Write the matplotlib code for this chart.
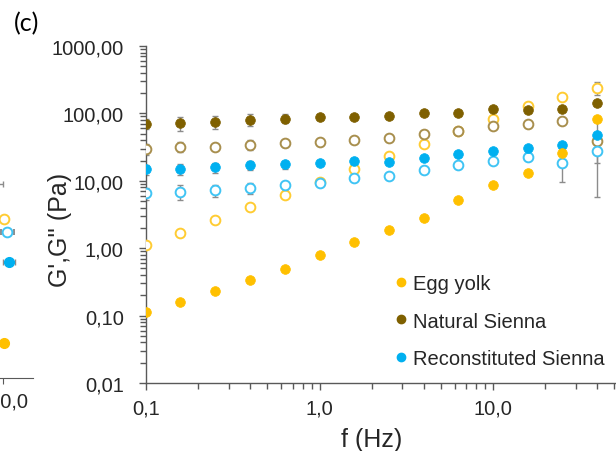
import matplotlib
matplotlib.use('Agg')
import matplotlib.pyplot as plt
from matplotlib.ticker import FuncFormatter, FixedLocator, LogLocator, NullFormatter
from matplotlib.lines import Line2D

plt.rcParams['font.family'] = ['Liberation Sans', 'DejaVu Sans']

# Frecuencias (Hz)
freq = [0.1, 0.158, 0.251, 0.398, 0.631, 1.0, 1.585, 2.512, 3.981, 6.31, 10.0, 15.85, 25.12, 39.81]

# Egg yolk
egg_G1 = [0.115, 0.159, 0.231, 0.341, 0.492, 0.794, 1.25, 1.85, 2.78, 5.2, 8.6, 13.2, 25.6, 82]
egg_G1_err = [0, 0, 0, 0, 0, 0, 0, 0, 0, 0, 0, 0.5, 1.0, 4]
egg_G2 = [1.10, 1.69, 2.58, 4.06, 6.21, 9.5, 14.9, 23.3, 35.5, 54, 84, 129, 178, 239]
egg_G2_err = [0, 0, 0, 0, 0, 0, 0, 0, 0, 0, 3, 5, 8, 53]

# Natural Sienna
nat_G1 = [70.8, 72, 74, 81, 84, 88, 88, 93, 103, 103, 115, 112, 115, 145]
nat_G1_err = [12, 17, 16, 17, 13, 8, 6, 5, 5, 5, 5, 5, 5, 10]
nat_G2 = [30, 31.8, 31.8, 34.4, 36, 38.2, 40, 43.8, 49.5, 54.4, 66, 70.8, 78, 38.5]
nat_G2_err = [5.5, 5.5, 3, 6, 4, 2, 2, 2, 2, 2, 3, 3, 3, 5]

# Reconstituted Sienna
rec_G1 = [14.8, 15.1, 15.8, 16.9, 17.5, 18.4, 19.9, 19.0, 21.5, 25.3, 27.7, 30.3, 33.6, 47.9]
rec_G1_err = [2.5, 2.8, 2.8, 2.6, 2.5, 1.5, 2, 1.5, 1, 1, 1, 1, 1, 29.7]
rec_G2 = [6.56, 6.87, 7.2, 7.8, 8.55, 9.25, 10.9, 11.8, 14.3, 17.1, 19.6, 22.8, 18.4, 27.4]
rec_G2_err = [1.3, 1.7, 1.5, 1.4, 1.2, 0.6, 1.0, 1.2, 0.5, 0.5, 0.5, 0.5, 8.8, 21.6]

# Trozo del panel vecino (recortado a la izquierda)
prev_x = [96.5, 100.4, 101.4, 102.1, 100.4]
prev_y = [7.7, 2.32, 1.50, 0.525, 0.033]
prev_xerr = [3.6, 0, 2.1, 2.0, 0]

c_egg = '#FFC000'
c_nat = '#7F6000'
c_rec = '#00B0F0'
c_egg_open = '#FFCC33'
c_nat_open = '#A88F4E'
c_rec_open = '#40C4F4'
c_err = '#8C8C8C'
c_axis = '#595959'
c_text = '#262626'

W, H = 616, 452
fig = plt.figure(figsize=(W / 100, H / 100), dpi=100)

ax = fig.add_axes([146 / W, 1 - 384 / H, 3 * 173.5 / W, 337 / H])
ax.set_xscale('log')
ax.set_yscale('log')
ax.set_xlim(0.1, 100)
ax.set_ylim(0.01, 1000)

ms = 7.0
ebkw = dict(fmt='none', ecolor=c_err, elinewidth=1, capsize=2.5, capthick=1, zorder=2)
for y, e in [(egg_G2, egg_G2_err), (nat_G2, nat_G2_err), (rec_G2, rec_G2_err),
             (rec_G1, rec_G1_err), (nat_G1, nat_G1_err), (egg_G1, egg_G1_err)]:
    ax.errorbar(freq, y, yerr=e, **ebkw)

# G'' (símbolos abiertos) primero, luego G' (rellenos)
for y, c in [(egg_G2, c_egg_open), (nat_G2, c_nat_open), (rec_G2, c_rec_open)]:
    ax.plot(freq, y, 'o', ms=ms, mfc='white', mec=c, mew=1.4, zorder=3)
for y, c in [(rec_G1, c_rec), (nat_G1, c_nat), (egg_G1, c_egg)]:
    ax.plot(freq, y, 'o', ms=ms, mfc=c, mec=c, mew=0.5, zorder=4)

ax.spines['top'].set_visible(False)
ax.spines['right'].set_visible(False)
for s in ['left', 'bottom']:
    ax.spines[s].set_color(c_axis)
    ax.spines[s].set_linewidth(1)

ax.xaxis.set_major_locator(FixedLocator([0.1, 1, 10]))
ax.xaxis.set_major_formatter(FuncFormatter(lambda v, p: f'{v:.1f}'.replace('.', ',')))
ax.yaxis.set_major_locator(FixedLocator([0.01, 0.1, 1, 10, 100, 1000]))
ax.yaxis.set_major_formatter(FuncFormatter(lambda v, p: f'{v:.2f}'.replace('.', ',')))
for a in [ax.xaxis, ax.yaxis]:
    a.set_minor_locator(LogLocator(base=10, subs=range(2, 10), numticks=20))
    a.set_minor_formatter(NullFormatter())
ax.tick_params(which='both', direction='out', color=c_axis, width=1, labelcolor=c_text, labelsize=14.5)
ax.tick_params(which='major', length=5)
ax.tick_params(which='minor', length=4)
ax.tick_params(axis='y', pad=11)
ax.tick_params(axis='x', pad=6)

ax.set_ylabel("G',G'' (Pa)", fontsize=18, color=c_text)
ax.yaxis.set_label_coords(-0.142, 0.457)
ax.set_xlabel('f (Hz)', fontsize=18, color=c_text)
ax.xaxis.set_label_coords(0.434, -0.1306)

handles = [Line2D([], [], ls='none', marker='o', ms=6, mfc=c, mec=c) for c in [c_egg, c_nat, c_rec]]
ax.legend(handles, ['Egg yolk', 'Natural Sienna', 'Reconstituted Sienna'],
          loc='upper left', bbox_to_anchor=(395 / W, 1 - 275 / H), bbox_transform=fig.transFigure,
          frameon=False, fontsize=14.5, handlelength=0.6, handletextpad=0.3,
          labelspacing=0.92, borderpad=0, borderaxespad=0, labelcolor=c_text)

# panel vecino, solo se ve su borde derecho
ax0 = fig.add_axes([-297 / W, 1 - 379 / H, 330 / W, 300 / H])
ax0.set_yscale('log')
ax0.set_xlim(0, 110)
ax0.set_ylim(0.01, 291)
for s in ['top', 'right', 'left']:
    ax0.spines[s].set_visible(False)
ax0.spines['bottom'].set_color(c_axis)
ax0.set_xticks([100])
ax0.xaxis.set_major_formatter(FuncFormatter(lambda v, p: f'{v:.1f}'.replace('.', ',')))
ax0.set_yticks([])
ax0.yaxis.set_minor_locator(FixedLocator([]))
ax0.tick_params(axis='x', direction='out', length=4, color=c_axis, labelcolor=c_text, labelsize=14.5, pad=6)
ax0.errorbar(prev_x[0], prev_y[0], xerr=prev_xerr[0], fmt='o', ms=ms, mfc='white', mec=c_nat_open,
             ecolor=c_err, elinewidth=1, capsize=2.5)
ax0.plot(prev_x[1], prev_y[1], 'o', ms=ms, mfc='white', mec=c_egg_open, mew=1.4)
ax0.errorbar(prev_x[2], prev_y[2], xerr=prev_xerr[2], fmt='o', ms=ms, mfc='white', mec=c_rec_open, mew=1.4,
             ecolor=c_err, elinewidth=1, capsize=2.5)
ax0.errorbar(prev_x[3], prev_y[3], xerr=prev_xerr[3], fmt='o', ms=ms, mfc=c_rec, mec=c_rec,
             ecolor=c_err, elinewidth=1, capsize=2.5)
ax0.plot(prev_x[4], prev_y[4], 'o', ms=ms, mfc=c_egg, mec=c_egg)

fig.text(27 / W, 1 - 24 / H, '(c)', fontsize=18, family=['Lato', 'DejaVu Sans'], ha='center', va='center')

fig.savefig('out.png', dpi=100)
